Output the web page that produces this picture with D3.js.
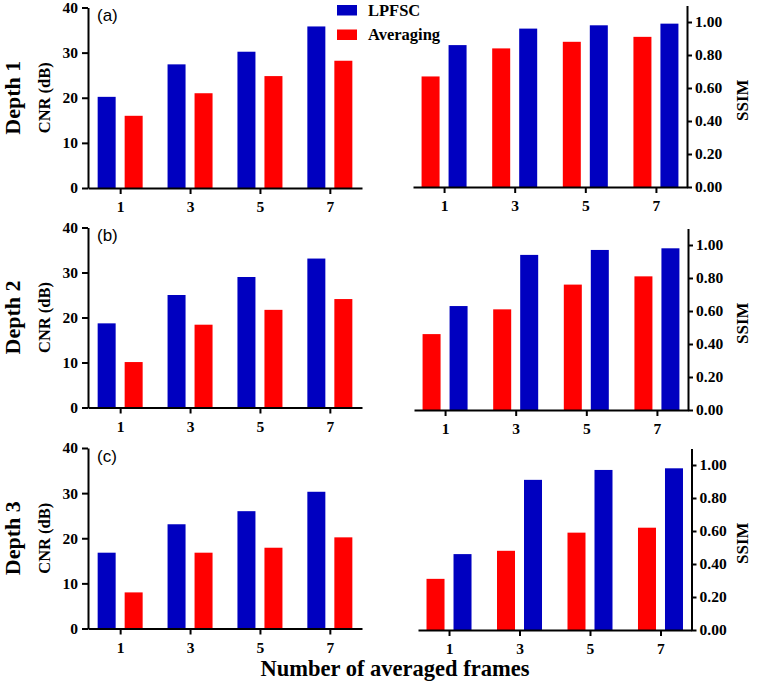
<!DOCTYPE html>
<html lang="en">
<head>
    <meta charset="UTF-8">
    <title>CNR and SSIM vs averaged frames</title>
    <script src="https://cdn.jsdelivr.net/npm/d3@7"></script>
    <style>
        body { margin: 0; background: #fff; }
        text { font-family: "Liberation Serif", "Times New Roman", serif; }
    </style>
</head>
<body>
<script>
    const frames = ['1', '3', '5', '7']
    const depths = ['Depth 1', 'Depth 2', 'Depth 3']
    const panelTags = ['(a)', '(b)', '(c)']
    const seriesNames = ['LPFSC', 'Averaging']

    // CNR (dB), one row per depth
    const cnrLPFSC = [[20.2, 27.4, 30.2, 35.8], [18.7, 25.0, 29.0, 33.1], [16.8, 23.1, 26.0, 30.3]]
    const cnrAveraging = [[16.0, 21.0, 24.8, 28.2], [10.1, 18.4, 21.7, 24.1], [8.0, 16.8, 17.9, 20.2]]
    // SSIM, one row per depth
    const ssimLPFSC = [[0.86, 0.96, 0.98, 0.99], [0.63, 0.94, 0.97, 0.98], [0.46, 0.91, 0.97, 0.98]]
    const ssimAveraging = [[0.67, 0.84, 0.88, 0.91], [0.46, 0.61, 0.76, 0.81], [0.31, 0.48, 0.59, 0.62]]

    const cnrTicks = [0, 10, 20, 30, 40]
    const ssimTicks = [0, 0.2, 0.4, 0.6, 0.8, 1.0]

    const [width, height] = [758, 686]
    const blue = '#0000c0', red = '#ff0000'
    const barW = 18, barOff = 13.5

    // panel geometry, one entry per row
    const leftBox = [
        {x0: 88, x1: 362, y0: 188, y1: 7.5},
        {x0: 88, x1: 362, y0: 407.5, y1: 227.5},
        {x0: 88, x1: 362, y0: 628.5, y1: 448}
    ]
    const rightBox = [
        {x0: 413, x1: 687, y0: 187, y1: 5.5},
        {x0: 414, x1: 688, y0: 410, y1: 228.5},
        {x0: 418, x1: 691.5, y0: 630, y1: 448.5}
    ]

    const svg = d3.select('body').append('svg')
        .attr('width', width)
        .attr('height', height)

    const styleAxis = g => {
        g.attr('font-family', null).attr('font-size', null)
        g.select('.domain').attr('stroke', '#000').attr('stroke-width', 2)
        g.selectAll('.tick line').attr('stroke', '#000').attr('stroke-width', 2)
        g.selectAll('.tick text')
            .attr('fill', '#000')
            .style('font-size', '15.5px')
            .style('font-weight', 'bold')
    }

    depths.forEach((depth, r) => {
        const L = leftBox[r], R = rightBox[r]

        // ---- left: CNR ----
        const xL = d3.scalePoint().domain(frames).range([L.x0, L.x1]).padding(0.46)
        const yL = d3.scaleLinear().domain([0, 40]).range([L.y0, L.y1])
        const gL = svg.append('g')

        const cnr = frames.map((f, i) => ({f, a: cnrLPFSC[r][i], b: cnrAveraging[r][i]}))
        gL.selectAll('rect.lp').data(cnr).enter().append('rect')
            .attr('x', d => xL(d.f) - barOff - barW / 2)
            .attr('y', d => yL(d.a))
            .attr('width', barW)
            .attr('height', d => yL(0) - yL(d.a))
            .attr('fill', blue)
        gL.selectAll('rect.av').data(cnr).enter().append('rect')
            .attr('x', d => xL(d.f) + barOff - barW / 2)
            .attr('y', d => yL(d.b))
            .attr('width', barW)
            .attr('height', d => yL(0) - yL(d.b))
            .attr('fill', red)

        gL.append('g').attr('transform', `translate(${L.x0},0)`)
            .call(d3.axisLeft(yL).tickValues(cnrTicks).tickSize(6).tickPadding(4).tickSizeOuter(0))
            .call(styleAxis)
        gL.append('g').attr('transform', `translate(0,${L.y0})`)
            .call(d3.axisBottom(xL).tickSize(6).tickPadding(7).tickSizeOuter(0))
            .call(styleAxis)

        gL.append('text')
            .attr('x', L.x0 + 9).attr('y', L.y1 + 13.5)
            .style('font-family', '"Liberation Sans", Arial, sans-serif')
            .style('font-size', '17px')
            .text(panelTags[r])

        const midL = (L.y0 + L.y1) / 2
        gL.append('text')
            .attr('transform', `translate(19.5,${midL}) rotate(-90)`)
            .attr('text-anchor', 'middle')
            .style('font-size', '22px').style('font-weight', 'bold')
            .text(depth)
        gL.append('text')
            .attr('transform', `translate(50,${midL}) rotate(-90)`)
            .attr('text-anchor', 'middle')
            .style('font-size', '16.5px').style('font-weight', 'bold')
            .text('CNR (dB)')

        // ---- right: SSIM ----
        const xR = d3.scalePoint().domain(frames).range([R.x0, R.x1]).padding(0.44)
        const yR = d3.scaleLinear().domain([0, 1.1]).range([R.y0, R.y1])
        const gR = svg.append('g')

        const ssim = frames.map((f, i) => ({f, a: ssimLPFSC[r][i], b: ssimAveraging[r][i]}))
        gR.selectAll('rect.av').data(ssim).enter().append('rect')
            .attr('x', d => xR(d.f) - barOff - barW / 2)
            .attr('y', d => yR(d.b))
            .attr('width', barW)
            .attr('height', d => yR(0) - yR(d.b))
            .attr('fill', red)
        gR.selectAll('rect.lp').data(ssim).enter().append('rect')
            .attr('x', d => xR(d.f) + barOff - barW / 2)
            .attr('y', d => yR(d.a))
            .attr('width', barW)
            .attr('height', d => yR(0) - yR(d.a))
            .attr('fill', blue)

        gR.append('g').attr('transform', `translate(${R.x1},0)`)
            .call(d3.axisRight(yR).tickValues(ssimTicks).tickFormat(d3.format('.2f'))
                .tickSize(5).tickPadding(3).tickSizeOuter(0))
            .call(styleAxis)
        gR.append('g').attr('transform', `translate(0,${R.y0})`)
            .call(d3.axisBottom(xR).tickSize(6).tickPadding(7).tickSizeOuter(0))
            .call(styleAxis)

        gR.append('text')
            .attr('transform', `translate(748,${(R.y0 + R.y1) / 2 + 4}) rotate(-90)`)
            .attr('text-anchor', 'middle')
            .style('font-size', '17px').style('font-weight', 'bold')
            .text('SSIM')
    })

    // legend
    const legend = svg.append('g').attr('transform', 'translate(337,5)')
    const legendColors = [blue, red]
    seriesNames.forEach((name, i) => {
        legend.append('rect')
            .attr('x', 0).attr('y', i * 24.5)
            .attr('width', 20).attr('height', 10.5)
            .attr('fill', legendColors[i])
        legend.append('text')
            .attr('x', 31).attr('y', i * 24 + 11)
            .style('font-size', '16.5px').style('font-weight', 'bold')
            .text(name)
    })

    svg.append('text')
        .attr('x', 395).attr('y', 676)
        .attr('text-anchor', 'middle')
        .style('font-size', '22.5px').style('font-weight', 'bold')
        .text('Number of averaged frames')
</script>
</body>
</html>
